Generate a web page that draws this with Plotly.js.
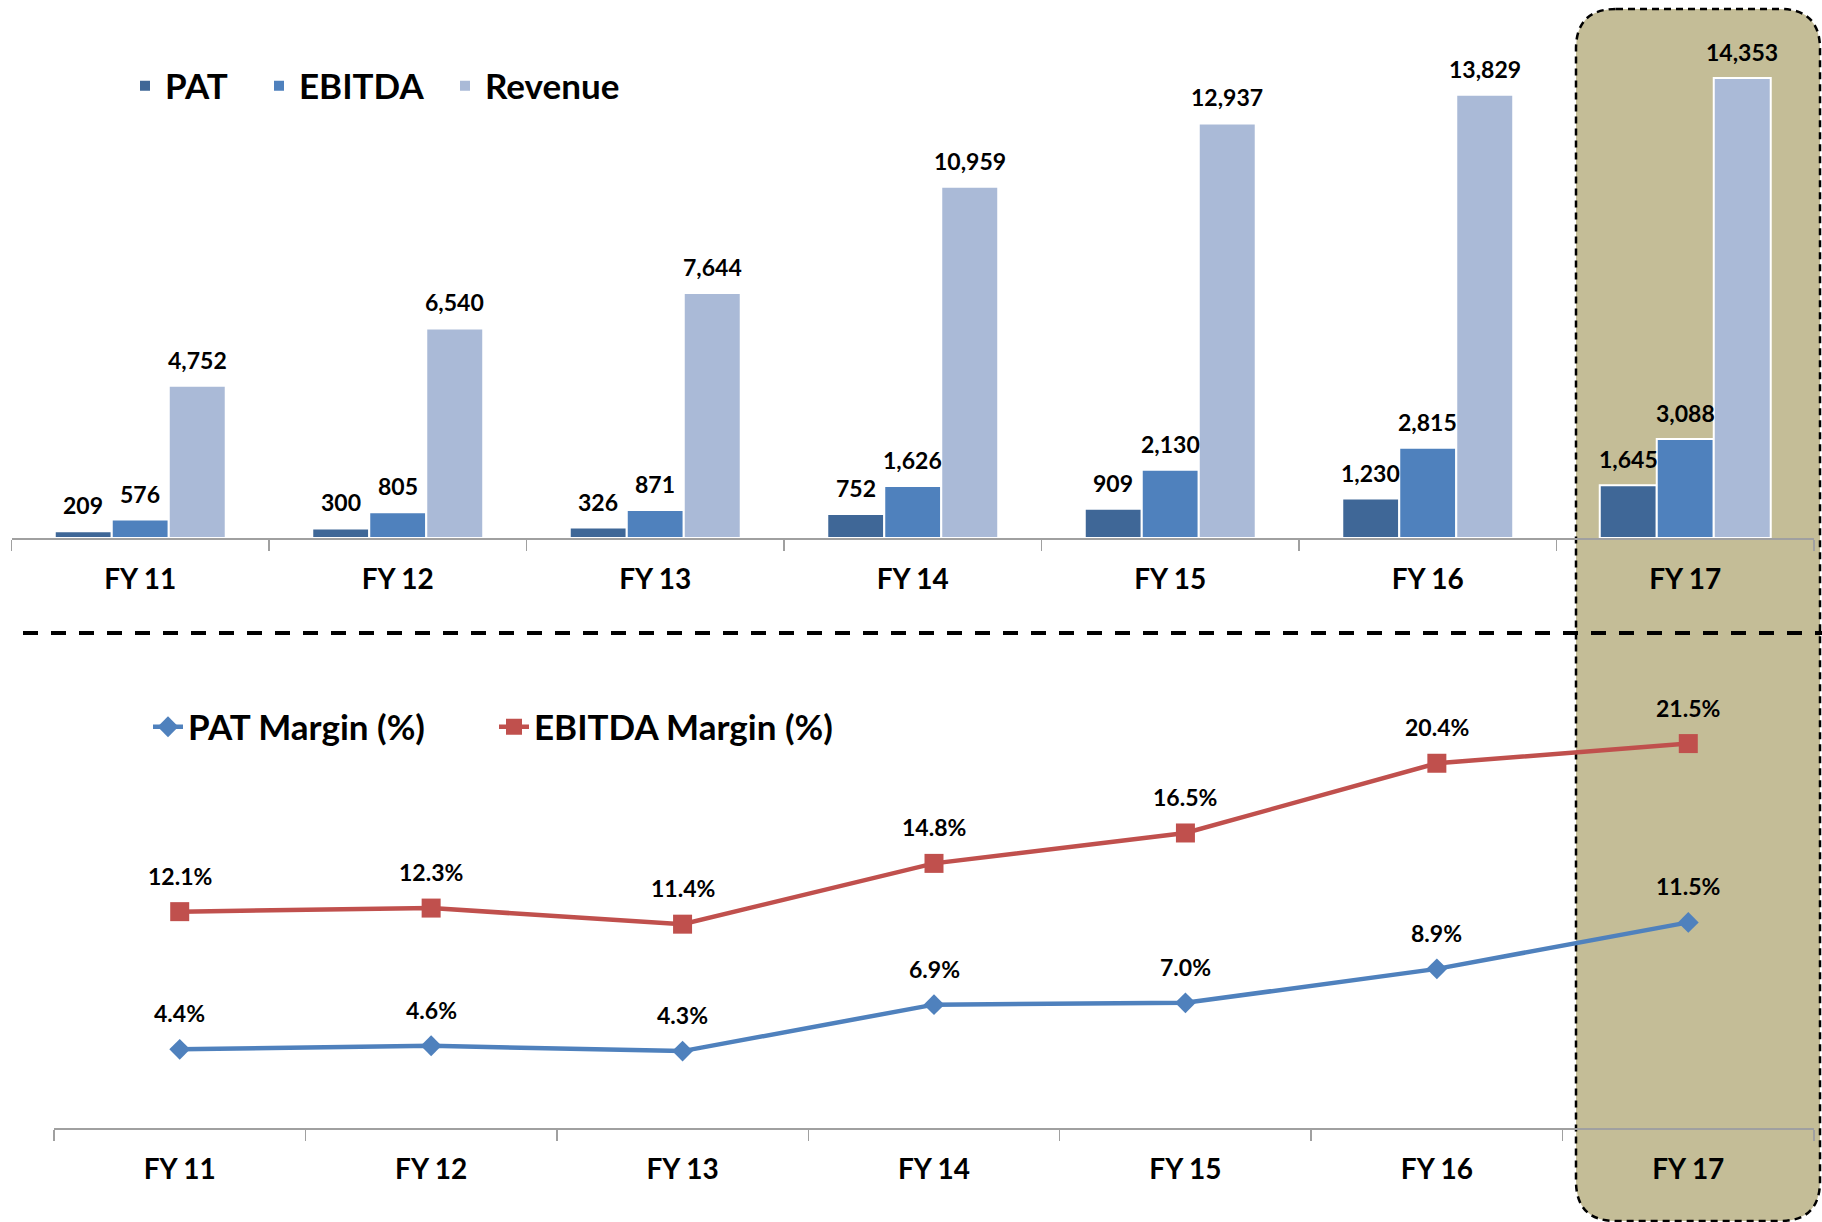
<!DOCTYPE html>
<html>
<head>
<meta charset="utf-8">
<script src="https://cdn.plot.ly/plotly-3.0.1.min.js"></script>
<style>
  body { margin: 0; background: #fff; }
  #chart { width: 1822px; height: 1222px; }
</style>
</head>
<body>
<div id="chart"></div>
<script>
// DATA
var years = ['FY 11', 'FY 12', 'FY 13', 'FY 14', 'FY 15', 'FY 16', 'FY 17'];
var pat = [209, 300, 326, 752, 909, 1230, 1645];
var ebitda = [576, 805, 871, 1626, 2130, 2815, 3088];
var revenue = [4752, 6540, 7644, 10959, 12937, 13829, 14353];
var patMargin = [4.4, 4.6, 4.3, 6.9, 7.0, 8.9, 11.5];
var ebitdaMargin = [12.1, 12.3, 11.4, 14.8, 16.5, 20.4, 21.5];

// page is 1822 x 1222, margins are zero so paper == pixels
var W = 1822, H = 1222;
function px(x) { return x / W; }
function py(y) { return 1 - y / H; }

var FONT = 'Lato, "Open Sans", sans-serif';
var bargap = 0.336;
var topDomain = [px(11.5), px(1814)];
var catW = (1814 - 11.5) / years.length;
var barW = catW * (1 - bargap) / 3;

CHART = document.getElementById('chart');

// BARS
var trace1 = {
  x: years, y: pat, name: 'PAT', type: 'bar', legend: 'legend', showlegend: true,
  marker: {color: '#3F6797', line: {color: '#fff', width: 2}},
  hoverinfo: 'skip'
};
var trace2 = {
  x: years, y: ebitda, name: 'EBITDA', type: 'bar', legend: 'legend2',
  marker: {color: '#4F81BD', line: {color: '#fff', width: 2}},
  hoverinfo: 'skip'
};
var trace3 = {
  x: years, y: revenue, name: 'Revenue', type: 'bar', legend: 'legend3',
  marker: {color: '#AABAD7', line: {color: '#fff', width: 2}},
  hoverinfo: 'skip'
};

// LINES
var trace4 = {
  x: years, y: patMargin, name: 'PAT Margin (%)', type: 'scatter', mode: 'lines+markers',
  xaxis: 'x2', yaxis: 'y2', legend: 'legend4',
  line: {color: '#4F81BD', width: 4.5},
  marker: {symbol: 'diamond', size: 16, color: '#4F81BD'},
  hoverinfo: 'skip'
};
var trace5 = {
  x: years, y: ebitdaMargin, name: 'EBITDA Margin (%)', type: 'scatter', mode: 'lines+markers',
  xaxis: 'x2', yaxis: 'y2', legend: 'legend5',
  line: {color: '#C0504D', width: 4.5},
  marker: {symbol: 'square', size: 19, color: '#C0504D'},
  hoverinfo: 'skip'
};

var data = [trace1, trace2, trace3, trace4, trace5];

// value labels
var annotations = [];
[pat, ebitda, revenue].forEach(function (vals, i) {
  vals.forEach(function (v, j) {
    annotations.push({
      x: years[j], y: v, xref: 'x', yref: 'y',
      text: v.toLocaleString('en-US'), showarrow: false,
      yanchor: 'bottom', yshift: 10, xshift: (i - 1) * barW,
      font: {family: FONT, size: 23, color: '#000', weight: 'bold'}
    });
  });
});
[patMargin, ebitdaMargin].forEach(function (vals) {
  vals.forEach(function (v, j) {
    annotations.push({
      x: years[j], y: v, xref: 'x2', yref: 'y2',
      text: v.toFixed(1) + '%', showarrow: false,
      yanchor: 'bottom', yshift: 20,
      font: {family: FONT, size: 23, color: '#000', weight: 'bold'}
    });
  });
});

// FY 17 highlight box (rounded, dashed)
var x0 = 1576, x1 = 1820, y0 = 9, y1 = 1221, r = 40;
var box = 'M' + px(x0 + r) + ',' + py(y0) +
  ' L' + px(x1 - r) + ',' + py(y0) +
  ' Q' + px(x1) + ',' + py(y0) + ' ' + px(x1) + ',' + py(y0 + r) +
  ' L' + px(x1) + ',' + py(y1 - r) +
  ' Q' + px(x1) + ',' + py(y1) + ' ' + px(x1 - r) + ',' + py(y1) +
  ' L' + px(x0 + r) + ',' + py(y1) +
  ' Q' + px(x0) + ',' + py(y1) + ' ' + px(x0) + ',' + py(y1 - r) +
  ' L' + px(x0) + ',' + py(y0 + r) +
  ' Q' + px(x0) + ',' + py(y0) + ' ' + px(x0 + r) + ',' + py(y0) + ' Z';

var axisStyle = {
  type: 'category', range: [-0.5, 6.5],
  showline: true, linecolor: '#A0A0A0', linewidth: 1.5,
  ticks: 'outside', tickson: 'boundaries', ticklen: 11, tickcolor: '#A0A0A0', tickwidth: 1.5,
  tickfont: {family: FONT, size: 28, color: '#000', weight: 'bold'},
  ticklabelstandoff: 16,
  showgrid: false, zeroline: false, fixedrange: true
};

// one legend per entry so the spacing can follow the picture
function legendAt(x, y) {
  return {
    orientation: 'h', x: px(x), y: py(y), xanchor: 'left', yanchor: 'middle',
    bgcolor: 'rgba(0,0,0,0)',
    font: {family: FONT, size: 35, color: '#000', weight: 'bold'}
  };
}

var layout = {
  width: W, height: H,
  margin: {l: 0, r: 0, t: 0, b: 0},
  paper_bgcolor: '#fff',
  plot_bgcolor: 'rgba(0,0,0,0)',
  showlegend: true,
  barmode: 'group', bargap: bargap, bargroupgap: 0,
  xaxis: Object.assign({domain: topDomain, anchor: 'y'}, axisStyle),
  yaxis: {domain: [py(538), 1], range: [0, 538 / 460 * 14353], visible: false, fixedrange: true},
  xaxis2: Object.assign({domain: [px(54), px(1814)], anchor: 'y2'}, axisStyle),
  yaxis2: {domain: [py(1128), py(660)], range: [0, 468 / 17.88], visible: false, fixedrange: true},
  legend: legendAt(125, 86),
  legend2: legendAt(259, 86),
  legend3: legendAt(445, 86),
  legend4: legendAt(148, 727),
  legend5: legendAt(494, 727),
  shapes: [
    {type: 'path', path: box, xref: 'paper', yref: 'paper', layer: 'below',
     fillcolor: '#C4BD97', line: {color: '#000', width: 2.5, dash: '7px,5px'}},
    {type: 'line', xref: 'paper', yref: 'paper', layer: 'above',
     x0: px(23), x1: 1, y0: py(633), y1: py(633),
     line: {color: '#000', width: 4, dash: '15px,13px'}}
  ],
  annotations: annotations
};

var config = {staticPlot: true};

Plotly.newPlot(CHART, data, layout, config);
</script>
</body>
</html>
